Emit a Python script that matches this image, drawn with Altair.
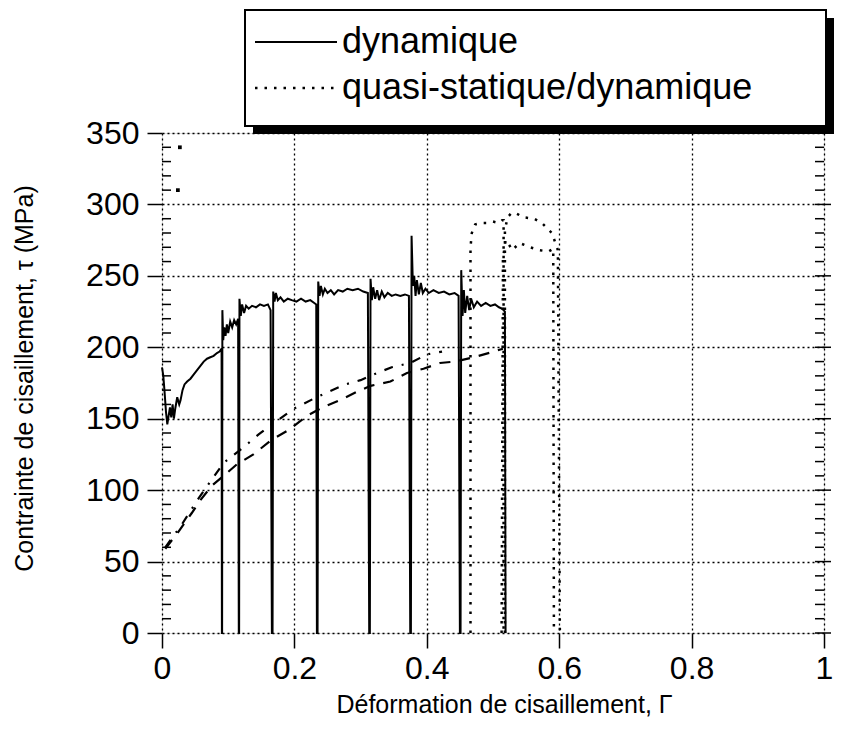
import altair as alt
import pandas as pd

# ---------------- data ----------------
x_ticks = [0, 0.2, 0.4, 0.6, 0.8, 1.0]
y_ticks = [0, 50, 100, 150, 200, 250, 300, 350]
y_minor = [10, 20, 30, 40, 60, 70, 80, 90, 110, 120, 130, 140, 160, 170, 180, 190,
           210, 220, 230, 240, 260, 270, 280, 290, 310, 320, 330, 340]

# dynamic test (solid) - successive segments joined through their vertical drops
dyn_x = [0.0, 0.002, 0.004, 0.006, 0.008, 0.010, 0.012, 0.014, 0.016, 0.018, 0.020, 0.023,
         0.026, 0.028, 0.031, 0.034, 0.038, 0.043, 0.048, 0.053, 0.058, 0.063, 0.068, 0.073,
         0.078, 0.083, 0.087, 0.090, 0.0905,
         0.0908, 0.0912, 0.0925, 0.094, 0.096, 0.098, 0.100, 0.103, 0.106, 0.109, 0.112, 0.115, 0.116,
         0.1165, 0.117, 0.119, 0.121, 0.124, 0.127, 0.131, 0.136, 0.142, 0.148, 0.154, 0.160, 0.164, 0.166,
         0.167, 0.168, 0.170, 0.172, 0.175, 0.179, 0.184, 0.190, 0.196, 0.203, 0.210, 0.217, 0.224, 0.230, 0.233, 0.234,
         0.235, 0.236, 0.238, 0.240, 0.243, 0.246, 0.250, 0.255, 0.260, 0.266, 0.273, 0.280, 0.288, 0.296, 0.304, 0.311, 0.313,
         0.314, 0.315, 0.317, 0.319, 0.322, 0.325, 0.328, 0.332, 0.336, 0.341, 0.347, 0.353, 0.360, 0.367, 0.373, 0.375,
         0.376, 0.377, 0.379, 0.381, 0.383, 0.385, 0.388, 0.391, 0.394, 0.398, 0.403, 0.410, 0.418, 0.426, 0.434, 0.442, 0.448, 0.450,
         0.451, 0.452, 0.454, 0.456, 0.458, 0.461, 0.464, 0.467, 0.471, 0.476, 0.482, 0.489, 0.496, 0.503, 0.509, 0.514, 0.518, 0.519]
dyn_y = [186, 180, 168, 155, 146, 152, 158, 151, 160, 150, 157, 165,
         160, 163, 170, 174, 176, 178, 181, 184, 187, 190, 192, 193,
         194, 196, 197, 199, 0,
         0, 226, 205, 214, 208, 216, 210, 218, 214, 219, 216, 220, 0,
         0, 234, 222, 230, 224, 229, 227, 229, 228, 230, 229, 230, 226, 0,
         0, 239, 232, 238, 233, 235, 232, 234, 233, 232, 234, 232, 233, 231, 230, 0,
         0, 246, 236, 243, 237, 241, 238, 240, 237, 240, 239, 241, 240, 241, 239, 238, 0,
         0, 248, 233, 242, 234, 240, 233, 239, 235, 238, 236, 237, 236, 237, 236, 0,
         0, 278, 243, 250, 236, 247, 237, 245, 238, 241, 238, 240, 238, 239, 237, 238, 236, 0,
         0, 254, 222, 240, 224, 236, 226, 234, 228, 232, 229, 231, 229, 230, 228, 227, 225, 0]

# quasi-static curves (dashed)
qsA_x = [0.005, 0.030, 0.055, 0.073, 0.093, 0.123, 0.146, 0.175, 0.199, 0.229, 0.252, 0.277,
         0.300, 0.325, 0.347, 0.375, 0.400, 0.423]
qsA_y = [60, 76, 94, 106, 119, 130, 139, 149, 157, 164, 169, 174, 177, 182, 186, 189, 195, 197]
qsB_x = [0.005, 0.025, 0.045, 0.058, 0.075, 0.088, 0.113, 0.138, 0.165, 0.191, 0.219, 0.243,
         0.269, 0.295, 0.315, 0.345, 0.370, 0.395, 0.420, 0.443, 0.471, 0.501, 0.515]
qsB_y = [59, 71, 84, 93, 103, 108, 118, 125, 135, 142, 152, 158, 163, 169, 173, 176, 182,
         185, 189, 190, 193, 197, 199]

# quasi-static / dynamic (dotted)
qd1_x = [0.466, 0.466, 0.468, 0.473, 0.481, 0.490, 0.500, 0.509, 0.514, 0.516, 0.516]
qd1_y = [0, 270, 280, 286, 287, 287, 288, 287, 289, 289, 0]
qd2_x = [0.518, 0.518, 0.522, 0.528, 0.534, 0.546, 0.562, 0.574, 0.589, 0.598, 0.601]
qd2_y = [0, 282, 291, 294, 294, 291, 290, 287, 280, 268, 0]
qd3_x = [0.513, 0.515, 0.519, 0.524, 0.529, 0.540, 0.556, 0.570, 0.584, 0.591, 0.592]
qd3_y = [0, 262, 275, 272, 268, 273, 270, 268, 267, 269, 0]
stray_x = [0.027, 0.024]
stray_y = [340, 310]

legend_labels = ["dynamique", "quasi-statique/dynamique"]

# ---------------- tables ----------------
def table(xs, ys, name):
    return pd.DataFrame({"x": xs, "y": ys, "i": list(range(len(xs))), "s": name})

dyn = table(dyn_x, dyn_y, "dyn")
qsA = table(qsA_x, qsA_y, "A")
qsB = table(qsB_x, qsB_y, "B")
qd = pd.concat([table(qd1_x, qd1_y, "q1"), table(qd2_x, qd2_y, "q2"), table(qd3_x, qd3_y, "q3")])
stray = pd.DataFrame({"x": stray_x, "y": stray_y})
minor = pd.DataFrame({"y": y_minor})
major = pd.DataFrame({"y": y_ticks})
one = pd.DataFrame({"k": [0]})

FONT = "Liberation Sans"
W, H = 662, 500

x_enc = alt.X("x:Q", scale=alt.Scale(domain=[0, 1], nice=False, zero=False),
              axis=alt.Axis(values=x_ticks, format="~g", tickSize=15, tickWidth=1.5, tickColor="black",
                            labelFontSize=32, labelFont=FONT, labelColor="black", labelPadding=5,
                            labelFlush=False, domain=False,
                            grid=True, gridDash=[2, 3], gridColor="black", gridWidth=1.3,
                            title="Déformation de cisaillement, Γ", titleFont=FONT, titleFontSize=25,
                            titleFontWeight="normal", titleColor="black",
                            titleBaseline="alphabetic", titleY=79, titleX=342))
y_enc = alt.Y("y:Q", scale=alt.Scale(domain=[0, 350], nice=False, zero=False),
              axis=alt.Axis(values=y_ticks, tickSize=15, tickWidth=1.5, tickColor="black",
                            labelFontSize=32, labelFont=FONT, labelColor="black", labelPadding=8,
                            labelFlush=False, domain=False,
                            grid=True, gridDash=[2, 3], gridColor="black", gridWidth=1.3,
                            title="Contrainte de cisaillement, τ (MPa)", titleFont=FONT, titleFontSize=25,
                            titleFontWeight="normal", titleColor="black", titleAngle=-90,
                            titleAlign="center", titleBaseline="alphabetic", titleX=-130, titleY=245))

minor_left = alt.Chart(minor).mark_rule(color="black", strokeWidth=1.5).encode(
    y=y_enc, x=alt.value(0), x2=alt.value(9))
minor_right = alt.Chart(minor).mark_rule(color="black", strokeWidth=1.5).encode(
    y=y_enc, x=alt.value(W - 9), x2=alt.value(W))
major_right = alt.Chart(major).mark_rule(color="black", strokeWidth=1.5).encode(
    y=y_enc, x=alt.value(W - 9), x2=alt.value(W + 7))

dyn_line = alt.Chart(dyn).mark_line(color="black", strokeWidth=2).encode(
    x=x_enc, y=y_enc, order="i:Q")
qsA_line = alt.Chart(qsA).mark_line(color="black", strokeWidth=2.2, strokeDash=[9, 9, 2, 9]).encode(
    x=x_enc, y=y_enc, order="i:Q")
qsB_line = alt.Chart(qsB).mark_line(color="black", strokeWidth=2.2, strokeDash=[11, 9]).encode(
    x=x_enc, y=y_enc, order="i:Q")
qd_line = alt.Chart(qd).mark_line(color="black", strokeWidth=2.5, strokeDash=[2.5, 7]).encode(
    x=x_enc, y=y_enc, order="i:Q", detail="s:N")
stray_pts = alt.Chart(stray).mark_square(color="black", size=14, opacity=1).encode(x=x_enc, y=y_enc)

# legend box with drop shadow (above the plot area)
shadow = alt.Chart(one).mark_rect(color="black").encode(
    x=alt.value(91), x2=alt.value(672), y=alt.value(-115), y2=alt.value(1))
box = alt.Chart(one).mark_rect(fill="white", stroke="black", strokeWidth=2).encode(
    x=alt.value(83), x2=alt.value(664), y=alt.value(-123), y2=alt.value(-7))
leg_solid = alt.Chart(one).mark_rule(color="black", strokeWidth=2).encode(
    x=alt.value(93), x2=alt.value(175), y=alt.value(-91))
leg_dot = alt.Chart(one).mark_rule(color="black", strokeWidth=2.5, strokeDash=[2.5, 7]).encode(
    x=alt.value(93), x2=alt.value(175), y=alt.value(-45))
leg_t1 = alt.Chart(one).mark_text(font=FONT, fontSize=36, align="left", baseline="middle", color="black").encode(
    x=alt.value(180), y=alt.value(-91), text=alt.value(legend_labels[0]))
leg_t2 = alt.Chart(one).mark_text(font=FONT, fontSize=36, align="left", baseline="middle", color="black").encode(
    x=alt.value(180), y=alt.value(-45), text=alt.value(legend_labels[1]))

chart = alt.layer(
    dyn_line, minor_left, minor_right, major_right, qsA_line, qsB_line, qd_line, stray_pts,
    shadow, box, leg_solid, leg_dot, leg_t1, leg_t2
).properties(
    width=W, height=H,
    autosize=alt.AutoSizeParams(type="none"),
    padding={"left": 154, "top": 125, "right": 10, "bottom": 85},
).configure_view(stroke="black", strokeWidth=2
).configure(background="white")

chart.save("out.html", embed_options={"renderer": "svg", "actions": False})
